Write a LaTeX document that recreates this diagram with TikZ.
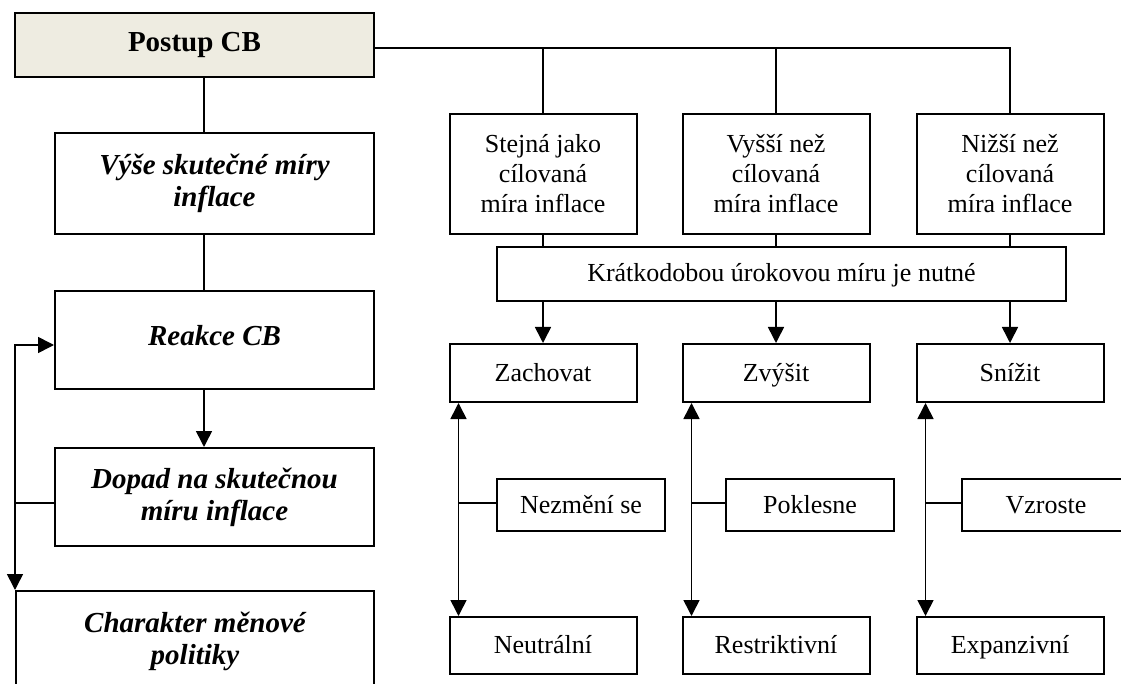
\documentclass[tikz,border=0pt]{standalone}
\usepackage{fontspec}
\setmainfont{Liberation Serif}
\usetikzlibrary{arrows.meta, positioning, calc}
\definecolor{head}{RGB}{238,236,225}

\begin{document}
\begin{tikzpicture}[
    x=1pt, y=-1pt,
    lbox/.style={rectangle, draw, line width=2pt, minimum width=319pt, minimum height=98pt, inner sep=0pt, align=center, font=\fontsize{29}{32}\selectfont\bfseries\itshape},
    rbox/.style={rectangle, draw, line width=2pt, minimum width=187pt, inner sep=0pt, align=center, font=\fontsize{26}{30}\selectfont},
    single/.style={text height=18pt, text depth=2pt},
    sbox/.style={rbox, single, minimum width=168pt, minimum height=52pt},
    conn/.style={line width=1.6pt},
    arrow/.style={conn, -{Triangle[length=16pt, width=16pt]}},
    darrow/.style={conn, {Triangle[length=16pt, width=16pt]}-{Triangle[length=16pt, width=16pt]}}
]
\clip (0,0) rectangle (1121,684);

% left column
\node[lbox, fill=head, minimum width=359pt, minimum height=64pt, font=\fontsize{29}{32}\selectfont\bfseries] (postup) at (194.5,45) {Postup CB};
\node[lbox, minimum height=101pt] (vyse) at (214.5,183.5) {Výše skutečné míry\\inflace};
\node[lbox, text height=20pt, text depth=10pt] (reakce) at (214.5,340) {Reakce CB};
\node[lbox] (dopad) at (214.5,497) {Dopad na skutečnou\\míru inflace};
\node[lbox, minimum width=358pt, minimum height=100pt] (charakter) at (195,641) {Charakter měnové\\politiky};

% right part
\node[rbox, minimum height=120pt] (stejna) at (543,174) {Stejná jako\\cílovaná\\míra inflace};
\node[rbox, minimum height=120pt] (vyssi) at (776,174) {Vyšší než\\cílovaná\\míra inflace};
\node[rbox, minimum height=120pt] (nizsi) at (1010,174) {Nižší než\\cílovaná\\míra inflace};

\node[rbox, single, minimum width=569pt, minimum height=54pt] (kratk) at (781.5,274) {Krátkodobou úrokovou míru je nutné};

\node[rbox, single, minimum height=58pt] (zachovat) at (543,373) {Zachovat};
\node[rbox, single, minimum height=58pt] (zvysit) at (776,373) {Zvýšit};
\node[rbox, single, minimum height=58pt] (snizit) at (1010,373) {Snížit};

\node[sbox] (nezmeni) at (581,505) {Nezmění se};
\node[sbox] (poklesne) at (810,505) {Poklesne};
\node[sbox] (vzroste) at (1046,505) {Vzroste};

\node[rbox, single, minimum height=57pt] (neutral) at (543,645.5) {Neutrální};
\node[rbox, single, minimum height=57pt] (restrikt) at (776,645.5) {Restriktivní};
\node[rbox, single, minimum height=57pt] (expanz) at (1010,645.5) {Expanzivní};

% left connectors
\coordinate (spine) at (204,0);
\draw[conn] (postup.south -| spine) -- (vyse.north -| spine);
\draw[conn] (vyse.south -| spine) -- (reakce.north -| spine);
\draw[arrow] (reakce.south -| spine) -- (dopad.north -| spine);

\coordinate (fb) at ($(dopad.west -| charakter.west)+(0,6)$);
\draw[conn] ($(dopad.west)+(0,6)$) -- (fb);
\draw[arrow] (fb) |- ($(reakce.west)+(0,5)$);
\draw[arrow] (fb) -- (charakter.north west);

% top bus
\coordinate (bus) at (0,48);
\draw[conn] (postup.east |- bus) -| (nizsi.north);
\draw[conn] (stejna.north |- bus) -- (stejna.north);
\draw[conn] (vyssi.north |- bus) -- (vyssi.north);

\draw[conn] (stejna.south) -- (stejna.south |- kratk.north);
\draw[conn] (vyssi.south) -- (vyssi.south |- kratk.north);
\draw[conn] (nizsi.south) -- (nizsi.south |- kratk.north);

\draw[arrow] (kratk.south -| zachovat.north) -- (zachovat.north);
\draw[arrow] (kratk.south -| zvysit.north) -- (zvysit.north);
\draw[arrow] (kratk.south -| snizit.north) -- (snizit.north);

% double arrows
\coordinate (za) at ([xshift=10pt]zachovat.south west);
\coordinate (zv) at ([xshift=10pt]zvysit.south west);
\coordinate (sn) at ([xshift=10pt]snizit.south west);
\draw[darrow] (za) -- (za |- neutral.north);
\draw[darrow] (zv) -- (zv |- restrikt.north);
\draw[darrow] (sn) -- (sn |- expanz.north);

\draw[conn] ($(nezmeni.west)+(0,-2)$) -- ($(nezmeni.west -| za)+(0,-2)$);
\draw[conn] ($(poklesne.west)+(0,-2)$) -- ($(poklesne.west -| zv)+(0,-2)$);
\draw[conn] ($(vzroste.west)+(0,-2)$) -- ($(vzroste.west -| sn)+(0,-2)$);

\end{tikzpicture}
\end{document}
